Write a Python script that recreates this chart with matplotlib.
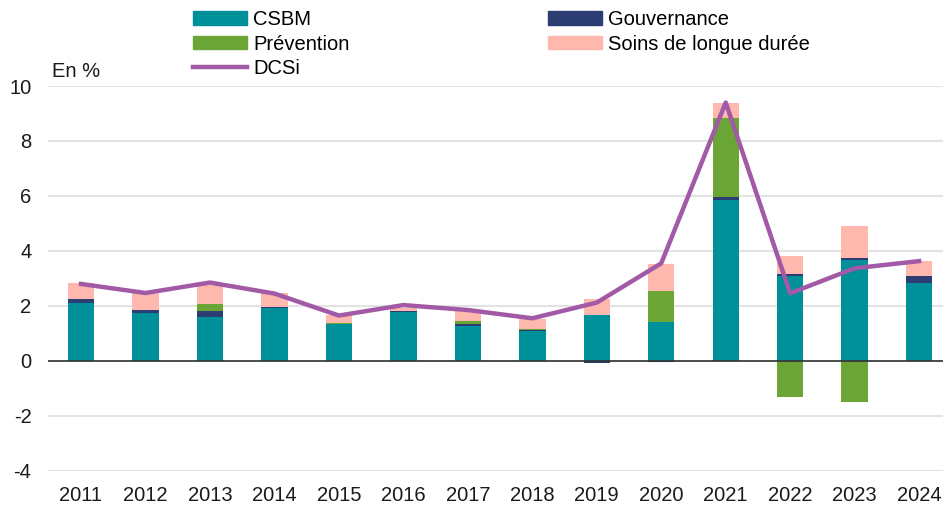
import numpy as np
import matplotlib.pyplot as plt
from matplotlib.patches import Patch
from matplotlib.lines import Line2D

plt.rcParams['font.family'] = ['Liberation Sans', 'DejaVu Sans']
plt.rcParams['axes.unicode_minus'] = False

years = ['2011', '2012', '2013', '2014', '2015', '2016', '2017',
         '2018', '2019', '2020', '2021', '2022', '2023', '2024']
csbm = [2.10, 1.75, 1.60, 1.94, 1.33, 1.77, 1.28, 1.07, 1.67, 1.40, 5.85, 3.07, 3.67, 2.85]
gouvernance = [0.15, 0.10, 0.20, 0.03, 0.02, 0.03, 0.05, 0.04, -0.07, -0.05, 0.10, 0.08, 0.09, 0.22]
prevention = [0.00, 0.00, 0.26, 0.00, 0.03, 0.00, 0.12, 0.05, 0.00, 1.15, 2.90, -1.33, -1.48, 0.00]
soins = [0.60, 0.62, 0.69, 0.49, 0.28, 0.11, 0.35, 0.35, 0.57, 0.98, 0.52, 0.68, 1.14, 0.57]
dcsi = [2.80, 2.47, 2.85, 2.45, 1.65, 2.03, 1.85, 1.55, 2.12, 3.55, 9.40, 2.46, 3.37, 3.63]

c_csbm, c_gouv, c_prev, c_soins, c_dcsi = '#00909a', '#2c3d73', '#6aa535', '#ffb8ad', '#a25aa6'

series = [
    (csbm, c_csbm),
    (gouvernance, c_gouv),
    (prevention, c_prev),
    (soins, c_soins),
]

FS = 14.5
fig = plt.figure(figsize=(9.43, 5.09), dpi=100)
ax = fig.add_axes([0.051, 0.075, 0.949, 0.756])

x = np.arange(len(years))
pos_base = np.zeros(len(years))
neg_base = np.zeros(len(years))
for vals, color in series:
    v = np.array(vals)
    base = np.where(v >= 0, pos_base, neg_base)
    ax.bar(x, v, bottom=base, width=0.41, color=color, zorder=2)
    pos_base += np.where(v >= 0, v, 0)
    neg_base += np.where(v < 0, v, 0)

ax.plot(x, dcsi, color=c_dcsi, lw=3.2, zorder=3)

ax.set_ylim(-4, 10)
ax.set_xlim(-0.51, 13.37)
ax.set_yticks(range(-4, 11, 2))
ax.set_xticks(x)
ax.set_xticklabels(years)
ax.yaxis.grid(True, color='#e3e3e3', lw=1.5, zorder=0)
ax.axhline(0, color='#333333', lw=1.2, zorder=4)
for s in ax.spines.values():
    s.set_visible(False)
ax.tick_params(length=0, labelsize=FS, colors='#1a1a1a')
ax.tick_params(axis='y', pad=12)
ax.tick_params(axis='x', pad=11)

fig.text(0.055, 0.849, 'En %', fontsize=FS, color='#1a1a1a')

leg_kw = dict(loc='upper left', frameon=False, fontsize=FS, handlelength=2.7,
              handleheight=0.65, handletextpad=0.3, labelspacing=0.27, borderpad=0)
leg1 = fig.legend([Patch(color=c_csbm), Patch(color=c_prev), Line2D([], [], color=c_dcsi, lw=3.2)],
                  ['CSBM', 'Prévention', 'DCSi'], bbox_to_anchor=(0.194, 1.0), **leg_kw)
leg2 = fig.legend([Patch(color=c_gouv), Patch(color=c_soins)],
                  ['Gouvernance', 'Soins de longue durée'], bbox_to_anchor=(0.5705, 1.0), **leg_kw)

fig.savefig('out.png', dpi=100)
